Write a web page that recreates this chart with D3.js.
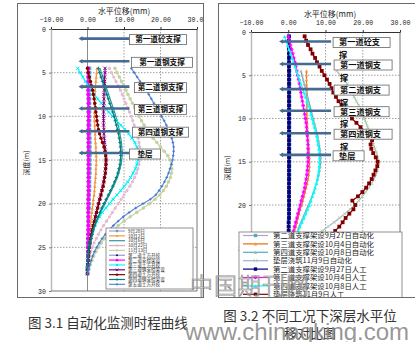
<!DOCTYPE html>
<html><head><meta charset="utf-8">
<script src="https://cdn.jsdelivr.net/npm/d3@7/dist/d3.min.js"></script>
<style>html,body{margin:0;padding:0;background:#fff;} svg{display:block;}</style>
</head><body>
<svg id="chart" width="415" height="342"></svg>
<script>
// ---------------- DATA ----------------
const xTicks = [-10, 0, 10, 20, 30];
const yTicks = [0, 5, 10, 15, 20, 25, 30];
const axisTitleX = "水平位移(mm)";
const axisTitleY = "深度(m)";

const supportDepths = [1.1, 3.7, 6.6, 9.1, 11.7, 14.2];
const supportLabels = ["第一道砼支撑", "第一道钢支撑", "第二道钢支撑", "第三道钢支撑", "第四道钢支撑", "垫层"];
const supportFrom = -2.2, supportTo = 11.5;

// Left chart (图3.1)
const leftDepths = [4.5,5,5.5,6,6.5,7,7.5,8,8.5,9,9.5,10,10.5,11,11.5,12,12.5,13,13.5,14,14.5,15,15.5,16,16.5,17,17.5,18,18.5,19,19.5,20,20.5,21,21.5,22,22.5,23,23.5,24,24.5,25,25.5,26,26.5,27,27.5,28];
const leftNames = ["9月28日","10月2日","10月6日","10月22日","11月13日","第二道土方开挖","第二道支撑架设","第三道土方开挖","第三道钢支撑架设","第四道土方开挖","第四道钢支撑架设","第五道土方开挖"];
const L0928 = [0.6,0.6,0.6,0.6,0.6,0.6,0.6,0.6,0.6,0.6, 0.6,0.6,0.6,0.6,0.6,0.6,0.7,0.7,0.7,0.7, 0.7,0.7,0.7,0.7,0.7,0.6,0.6,0.6,0.6,0.5, 0.5,0.5,0.5,0.4,0.4,0.4,0.3,0.3,0.3,0.2, 0.2,0.2,0.1,0.1,0.1,0.0,0.0,0.0];
const L1002 = [2.6,2.5,2.4,2.3,2.2,2.1,2.0,2.0,1.9,1.9, 1.9,1.9,1.9,2.0,2.0,2.1,2.1,2.2,2.3,2.3, 2.4,2.4,2.4,2.3,2.3,2.2,2.1,2.0,1.9,1.8, 1.6,1.5,1.3,1.2,1.0,0.9,0.7,0.6,0.5,0.4, 0.3,0.2,0.2,0.1,0.1,0.0,0.0,0.0];
const L1006 = [3.4,3.8,4.2,4.6,5.0,5.4,5.8,6.2,6.6,7.0, 7.4,7.8,8.1,8.4,8.7,8.9,9.1,9.3,9.4,9.5, 9.5,9.4,9.2,8.9,8.6,8.2,7.7,7.2,6.6,6.0, 5.4,4.8,4.2,3.6,3.1,2.6,2.1,1.7,1.4,1.1, 0.8,0.6,0.4,0.2,0.1,0.0,0.0,0.0];
const L1022 = [6.0,6.6,7.2,7.8,8.4,9.0,9.5,10.0,10.5,11.0, 11.5,12.0,12.4,12.8,13.2,13.6,13.9,14.1,14.3,14.4, 14.4,14.3,14.1,13.8,13.4,12.9,12.3,11.6,10.8,10.0, 9.2,8.4,7.6,6.8,6.0,5.2,4.4,3.7,3.0,2.4, 1.8,1.3,0.9,0.6,0.3,0.1,0.0,0.0];
const L1113 = [7.5,8.1,8.7,9.3,9.9,10.5,11.1,11.7,12.3,12.9, 13.5,14.1,14.8,15.5,16.3,17.1,18.0,19.0,20.0,21.0, 22.0,22.6,23.0,23.1,23.0,22.7,22.2,21.6,20.8,19.8, 18.5,17.0,15.3,13.5,11.7,10.0,8.4,7.0,5.8,4.7, 3.8,3.0,2.3,1.7,1.2,0.8,0.4,0.1];
const LExc2 = [0.1,0.1,0.1,0.1,0.1,0.1,0.1,0.1,0.1,0.1, 0.1,0.1,0.1,0.1,0.1,0.1,0.1,0.1,0.1,0.1, 0.1,0.1,0.1,0.1,0.1,0.1,0.1,0.1,0.1,0.1, 0.1,0.1,0.1,0.1,0.1,0.1,0.1,0.1,0.0,0.0, 0.0,0.0,0.0,0.0,0.0,0.0,0.0,0.0];
const LSup2 = [0.2,0.2,0.2,0.2,0.2,0.2,0.2,0.3,0.3,0.3, 0.3,0.3,0.3,0.3,0.3,0.3,0.3,0.3,0.3,0.3, 0.3,0.3,0.3,0.3,0.3,0.3,0.3,0.3,0.3,0.3, 0.2,0.2,0.2,0.2,0.2,0.2,0.2,0.2,0.2,0.2, 0.1,0.1,0.1,0.1,0.1,0.1,0.0,0.0];
const LExc3 = [-2.7,-2.0,-1.3,-0.6,0.2,1.0,1.9,2.8,3.8,4.8, 5.8,6.9,8.0,9.1,10.2,11.3,12.2,13.0,13.5,13.8, 13.9,13.8,13.5,13.1,12.5,11.8,11.0,10.1,9.1,8.1, 7.0,6.0,5.0,4.1,3.3,2.6,2.0,1.5,1.1,0.8, 0.5,0.3,0.2,0.1,0.0,0.0,0.0,0.0];
const LSup3 = [4.8,4.8,4.7,4.7,4.6,4.6,4.5,4.5,4.5,4.4, 4.4,4.4,4.4,4.4,4.5,4.5,4.6,4.7,4.8,4.9, 5.0,5.0,5.0,4.9,4.8,4.6,4.4,4.2,3.9,3.6, 3.3,3.0,2.7,2.4,2.1,1.8,1.5,1.2,1.0,0.8, 0.6,0.4,0.3,0.2,0.1,0.1,0.0,0.0];
const LExc4 = [0.0,0.2,0.5,0.8,1.1,1.4,1.6,1.8,2.0,2.2, 2.3,2.5,2.6,2.8,3.0,3.3,3.7,4.1,4.5,4.8, 5.0,5.1,5.1,5.0,4.9,4.7,4.5,4.3,4.0,3.7, 3.4,3.1,2.8,2.5,2.2,1.9,1.6,1.3,1.1,0.9, 0.7,0.5,0.4,0.3,0.2,0.1,0.0,0.0];
const LSup4 = [3.0,3.3,3.7,4.1,4.5,4.9,5.3,5.7,6.1,6.5, 6.9,7.3,7.6,7.9,8.2,8.5,8.7,8.9,9.0,9.1, 9.1,9.0,8.9,8.6,8.3,7.9,7.4,6.9,6.3,5.7, 5.1,4.5,3.9,3.4,2.9,2.4,2.0,1.6,1.3,1.0, 0.7,0.5,0.3,0.2,0.1,0.0,0.0,0.0];
const LExc5 = [12.0,12.8,13.6,14.4,15.2,16.0,16.8,17.5,18.2,18.9, 19.6,20.3,21.0,21.6,22.2,22.7,23.1,23.4,23.6,23.6, 23.5,23.3,23.0,22.6,22.2,21.7,21.1,20.4,19.6,18.7, 17.2,15.2,13.2,11.4,9.8,8.4,7.1,5.9,4.9,4.0, 3.2,2.5,1.9,1.4,1.0,0.6,0.3,0.1];
const leftValues = [L0928, L1002, L1006, L1022, L1113, LExc2, LSup2, LExc3, LSup3, LExc4, LSup4, LExc5];

// Right chart (图3.2)
const rightAutoDepths = [4.5,5,5.5,6,6.5,7,7.5,8,8.5,9,9.5,10,10.5,11,11.5,12,12.5,13,13.5,14,14.5,15,15.5,16,16.5,17,17.5,18,18.5,19,19.5,20,20.5,21,21.5,22,22.5,23,23.5,24,24.5,25,25.5,26,26.5,27,27.5,28];
const rightManualDepths = [0.5,1,1.5,2,2.5,3,3.5,4,4.5,5,5.5,6,6.5,7,7.5,8,8.5,9,9.5,10,10.5,11,11.5,12,12.5,13,13.5,14,14.5,15,15.5,16,16.5,17,17.5,18,18.5,19,19.5,20,20.5,21,21.5,22,22.5,23,23.5,24,24.5,25,25.5,26,26.5,27,27.5,28];
const rightNames = ["第二道支撑架设9月27日自动化","第三道支撑架设10月4日自动化","第四道支撑架设10月8日自动化","垫层浇筑11月9日自动化","第二道支撑架设9月27日人工","第三道支撑架设10月4日人工","第四道支撑架设10月8日人工","垫层浇筑11月9日人工"];
const RA0927 = [0.4,0.4,0.4,0.4,0.4,0.4,0.4,0.4,0.4,0.4, 0.4,0.4,0.4,0.4,0.4,0.4,0.4,0.4,0.4,0.4, 0.4,0.4,0.4,0.4,0.4,0.4,0.3,0.3,0.3,0.3, 0.3,0.3,0.3,0.3,0.2,0.2,0.2,0.2,0.2,0.2, 0.1,0.1,0.1,0.1,0.1,0.0,0.0,0.0];
const RA1004 = [4.9,4.9,4.9,4.9,5.0,5.0,5.0,5.0,5.0,5.0, 5.0,5.0,5.1,5.1,5.2,5.2,5.3,5.4,5.5,5.6, 5.7,5.7,5.7,5.6,5.5,5.3,5.1,4.8,4.5,4.2, 3.9,3.6,3.2,2.9,2.6,2.3,2.0,1.7,1.4,1.1, 0.9,0.7,0.5,0.3,0.2,0.1,0.0,0.0];
const RA1008 = [3.4,3.7,4.0,4.3,4.6,4.9,5.2,5.5,5.8,6.1, 6.4,6.7,7.0,7.3,7.6,7.9,8.1,8.3,8.5,8.6, 8.7,8.7,8.6,8.4,8.2,7.9,7.6,7.2,6.8,6.4, 5.9,5.4,4.9,4.4,3.9,3.4,2.9,2.5,2.1,1.7, 1.3,1.0,0.7,0.5,0.3,0.2,0.1,0.0];
const RA1109 = [13.0,14.0,15.0,15.8,16.5,17.1,17.7,18.3,18.9,19.4, 19.9,20.4,20.9,21.3,21.7,22.1,22.5,22.9,23.3,23.7, 24.0,24.1,24.1,23.9,23.5,23.0,22.4,21.6,20.8,19.9, 18.9,17.9,16.6,15.2,13.8,12.3,10.7,9.1,7.6,6.2, 5.0,3.9,3.0,2.2,1.5,0.9,0.4,0.1];
const RM0927 = [0.2,0.2,0.2,0.2,0.2,0.2,0.2,0.2,0.2,0.2, 0.2,0.2,0.2,0.2,0.2,0.2,0.2,0.2,0.2,0.2, 0.2,0.2,0.2,0.2,0.2,0.2,0.2,0.2,0.2,0.2, 0.2,0.2,0.2,0.2,0.2,0.2,0.2,0.2,0.2,0.2, 0.2,0.2,0.2,0.1,0.1,0.1,0.1,0.1,0.1,0.1, 0.1,0.1,0.0,0.0,0.0,0.0];
const RM1004 = [0.0,0.3,0.6,0.9,1.2,1.5,1.8,2.0,2.3,2.5, 2.8,3.0,3.2,3.4,3.6,3.8,4.0,4.2,4.4,4.6, 4.8,4.9,5.0,5.1,5.2,5.3,5.3,5.3,5.3,5.3, 5.2,5.1,5.0,4.8,4.6,4.4,4.1,3.8,3.5,3.2, 2.9,2.6,2.3,2.0,1.7,1.4,1.2,1.0,0.8,0.6, 0.5,0.4,0.3,0.2,0.1,0.0];
const RM1008 = [-1.0,-0.6,-0.2,0.2,0.6,1.0,1.4,1.8,2.2,2.6, 3.0,3.4,3.8,4.2,4.6,5.0,5.4,5.8,6.1,6.4, 6.7,7.0,7.3,7.6,7.8,8.0,8.2,8.3,8.4,8.4, 8.3,8.2,8.0,7.8,7.5,7.2,6.9,6.5,6.1,5.7, 5.2,4.7,4.2,3.7,3.2,2.7,2.3,1.9,1.5,1.2, 0.9,0.7,0.5,0.3,0.1,0.0];
const RM1109 = [4.4,4.8,5.3,6.0,6.5,7.2,7.7,8.4,9.0,9.7, 10.4,11.1,11.6,12.1,12.8,13.5,14.3,15.1,16.1,17.1, 18.3,19.4,20.7,21.6,22.5,22.1,22.3,22.8,23.5,24.0, 23.9,23.4,22.9,22.4,21.7,20.9,19.9,18.7,17.2,18.0, 17.5,16.4,15.4,14.6,13.7,12.6,11.6,10.5,9.3,8.0, 6.6,5.2,3.8,2.5,1.3,0.5];
const rightValues = [RA0927, RA1004, RA1008, RA1109, RM0927, RM1004, RM1008, RM1109];
const rightDepthSets = [rightAutoDepths, rightAutoDepths, rightAutoDepths, rightAutoDepths, rightManualDepths, rightManualDepths, rightManualDepths, rightManualDepths];

const captionLeft = "图 3.1 自动化监测时程曲线";
const captionRight1 = "图 3.2 不同工况下深层水平位";
const captionRight2 = "移对比图";

// ---------------- DRAWING ----------------
const svg = d3.select('#chart');
const CJK = '"Noto Sans CJK SC","Noto Sans",sans-serif';
const MONO = '"Liberation Mono","DejaVu Sans Mono",monospace';
const defs = svg.append('defs');

function sym(g, type, s, color) {
  const h = s / 2;
  if (type === 'square') g.append('rect').attr('x', -h).attr('y', -h).attr('width', s).attr('height', s).attr('fill', color);
  else if (type === 'circle') g.append('circle').attr('r', h).attr('fill', color);
  else if (type === 'triangle') g.append('path').attr('d', `M0,${-h}L${h},${h}L${-h},${h}Z`).attr('fill', color);
  else if (type === 'diamond') g.append('path').attr('d', `M0,${-h}L${h},0L0,${h}L${-h},0Z`).attr('fill', color);
  else if (type === 'x') g.append('path').attr('d', `M${-h},${-h}L${h},${h}M${-h},${h}L${h},${-h}`).attr('stroke', color).attr('stroke-width', 1);
  else if (type === 'plus') g.append('path').attr('d', `M${-h},0L${h},0M0,${-h}L0,${h}`).attr('stroke', color).attr('stroke-width', 1);
  else if (type === 'star') g.append('path').attr('d', `M${-h},0L${h},0M0,${-h}L0,${h}M${-h*0.7},${-h*0.7}L${h*0.7},${h*0.7}M${-h*0.7},${h*0.7}L${h*0.7},${-h*0.7}`).attr('stroke', color).attr('stroke-width', 1);
}

function drawChart(cfg) {
  const F = cfg.frame, P = cfg.plot;
  defs.append('clipPath').attr('id', cfg.id + 'F').append('rect')
    .attr('x', F.x).attr('y', F.y).attr('width', F.w).attr('height', F.h);
  defs.append('clipPath').attr('id', cfg.id + 'P').append('rect')
    .attr('x', P.x0).attr('y', P.y0 - 3).attr('width', P.x1 - P.x0 + 3).attr('height', P.y1 - P.y0 + 3);
  const root = svg.append('g').attr('clip-path', `url(#${cfg.id}F)`);
  root.append('rect').attr('x', F.x).attr('y', F.y).attr('width', F.w).attr('height', F.h).attr('fill', '#fff');

  const x = d3.scaleLinear().domain([-10, 30]).range([P.x0, P.x1]);
  const y = d3.scaleLinear().domain([0, 30]).range([P.y0, P.y1]);

  // grid
  const grid = root.append('g');
  yTicks.filter(t => t > 0 && t < 30).forEach(t => {
    grid.append('line').attr('x1', P.x0).attr('x2', P.x1).attr('y1', y(t)).attr('y2', y(t))
      .attr('stroke', '#8a8a8a').attr('stroke-width', 0.8).attr('stroke-dasharray', '1.5,1.5');
  });
  xTicks.filter(t => t > 0 && t < 30).forEach(t => {
    grid.append('line').attr('x1', x(t)).attr('x2', x(t)).attr('y1', P.y0).attr('y2', P.y1)
      .attr('stroke', '#8a8a8a').attr('stroke-width', 0.8).attr('stroke-dasharray', '1.5,1.5');
  });
  grid.append('line').attr('x1', x(0)).attr('x2', x(0)).attr('y1', P.y0).attr('y2', P.y1)
    .attr('stroke', '#8c8c8c').attr('stroke-width', 1);
  grid.append('line').attr('x1', x(30)).attr('x2', x(30)).attr('y1', P.y0).attr('y2', P.y1)
    .attr('stroke', '#777').attr('stroke-width', 1);
  grid.append('line').attr('x1', P.x0).attr('x2', P.x1).attr('y1', y(30)).attr('y2', y(30))
    .attr('stroke', '#777').attr('stroke-width', 1);

  // axes
  const ax = root.append('g').attr('transform', `translate(0,${P.y0})`)
    .call(d3.axisTop(x).tickValues(xTicks).tickFormat(d3.format('.2f')).tickSize(2).tickSizeOuter(0).tickPadding(5));
  ax.select('.domain').attr('stroke', '#333');
  ax.selectAll('.tick line').attr('stroke', '#333');
  ax.selectAll('text').attr('font-family', MONO).attr('font-size', 6.6).attr('fill', '#222');
  const ay = root.append('g').attr('transform', `translate(${P.x0},0)`)
    .call(d3.axisLeft(y).tickValues(yTicks).tickSize(2).tickSizeOuter(0).tickPadding(3));
  ay.select('.domain').attr('stroke', '#777').attr('stroke-width', 1.5).attr('stroke-dasharray', '1,1');
  ay.selectAll('.tick line').attr('stroke', '#777');
  ay.selectAll('text').attr('font-family', MONO).attr('font-size', 6.6).attr('fill', '#222');

  root.append('text').attr('x', cfg.titleX).attr('y', cfg.titleY).attr('text-anchor', 'middle')
    .attr('font-family', CJK).attr('font-size', 8).attr('fill', '#222').text(axisTitleX);
  root.append('text').attr('transform', `translate(${cfg.yTitleX},${cfg.yTitleY}) rotate(-90)`)
    .attr('text-anchor', 'middle').attr('font-family', CJK).attr('font-size', 7).attr('fill', '#222').text(axisTitleY);

  // series
  const sg = root.append('g').attr('clip-path', `url(#${cfg.id}P)`);
  cfg.values.forEach((vals, i) => {
    const st = cfg.styles[i];
    const depths = cfg.depths[i];
    const pts = vals.map((v, k) => ({ v, d: depths[k] }));
    const line = d3.line().x(p => x(p.v)).y(p => y(p.d));
    sg.append('path').attr('d', line(pts)).attr('fill', 'none').attr('stroke', st.line)
      .attr('stroke-width', st.w || 1.2).attr('stroke-dasharray', st.dash || null);
    if (st.mk !== 'none') {
      pts.forEach(p => {
        const m = sg.append('g').attr('transform', `translate(${x(p.v)},${y(p.d)})`);
        sym(m, st.mk, st.ms || 3.2, st.mc);
      });
    }
  });

  // supports
  const an = root.append('g');
  supportDepths.forEach((d, i) => {
    const yy = y(d), xa = x(supportFrom), xb = x(supportTo);
    an.append('line').attr('x1', xa + 2).attr('x2', xb).attr('y1', yy).attr('y2', yy)
      .attr('stroke', '#466b93').attr('stroke-width', 2.6);
    an.append('path').attr('d', `M${xa - 1},${yy}L${xa + 3},${yy - 2.3}L${xa + 3},${yy + 2.3}Z`).attr('fill', '#466b93');
    const lay = cfg.boxes[i];
    const bx = xb + lay.dx;
    an.append('rect').attr('x', bx).attr('y', yy - 4).attr('width', lay.w).attr('height', 10)
      .attr('fill', '#fff').attr('stroke', '#666').attr('stroke-width', 0.8);
    const lab = supportLabels[i];
    if (cfg.wrap && lab.length > 5) {
      an.append('text').attr('x', bx + 6).attr('y', yy + 3.8).attr('font-family', CJK).attr('font-weight', 'bold')
        .attr('font-size', cfg.boxFont).attr('fill', '#111').text(lab.slice(0, 5));
      an.append('text').attr('x', bx + 6).attr('y', yy + 16.5).attr('font-family', CJK).attr('font-weight', 'bold')
        .attr('font-size', cfg.boxFont).attr('fill', '#111').text(lab.slice(5));
    } else if (cfg.wrap) {
      an.append('text').attr('x', bx + 6).attr('y', yy + 3.8).attr('font-family', CJK).attr('font-weight', 'bold')
        .attr('font-size', cfg.boxFont).attr('fill', '#111').text(lab);
    } else {
      an.append('text').attr('x', bx + lay.w / 2).attr('y', yy + 3.6).attr('text-anchor', 'middle').attr('font-family', CJK)
        .attr('font-weight', 'bold').attr('font-size', cfg.boxFont).attr('fill', '#111').text(lab);
    }
  });

  // legend
  const L = cfg.legend;
  const lg = root.append('g');
  lg.append('rect').attr('x', L.x).attr('y', L.y).attr('width', L.w).attr('height', L.h)
    .attr('fill', '#fff').attr('stroke', '#777').attr('stroke-width', 0.8);
  cfg.names.forEach((n, i) => {
    const st = cfg.styles[i];
    const ry = L.row0 + i * L.rowH;
    lg.append('line').attr('x1', L.lx0).attr('x2', L.lx1).attr('y1', ry).attr('y2', ry)
      .attr('stroke', st.line).attr('stroke-width', st.w || 1.2);
    if (st.mk !== 'none') {
      const m = lg.append('g').attr('transform', `translate(${(L.lx0 + L.lx1) / 2},${ry})`);
      sym(m, st.mk, L.ms, st.mc);
    }
    lg.append('text').attr('x', L.tx).attr('y', ry + L.fs * 0.36).attr('font-family', CJK)
      .attr('font-size', L.fs).attr('fill', '#222').text(n);
  });

  // frame border
  svg.append('rect').attr('x', F.x + 0.5).attr('y', F.y + 0.5).attr('width', F.w - 1).attr('height', F.h - 1)
    .attr('fill', 'none').attr('stroke', '#6a6a6a').attr('stroke-width', 1);
}

drawChart({
  id: 'L',
  frame: { x: 17, y: 3, w: 187, h: 295 },
  plot: { x0: 51, x1: 197, y0: 29, y1: 291 },
  titleX: 124, titleY: 14, yTitleX: 29, yTitleY: 163,
  values: leftValues, depths: leftValues.map(() => leftDepths), names: leftNames,
  styles: [
    { line: '#a99bd0', mk: 'square', mc: '#4bacc6' },
    { line: '#f79646', mk: 'triangle', mc: '#f79646' },
    { line: '#2e9a9a', mk: 'none' },
    { line: '#dcaac4', mk: 'circle', mc: '#e3bccf', dash: '2,1' },
    { line: '#c4d79b', mk: 'circle', mc: '#c6d2a6', ms: 3.6 },
    { line: '#9999cc', mk: 'diamond', mc: '#000080' },
    { line: '#ff00ff', mk: 'square', mc: '#ff00ff', ms: 3.4 },
    { line: '#00ffff', mk: 'x', mc: '#00e8ff' },
    { line: '#800080', mk: 'x', mc: '#800080' },
    { line: '#800000', mk: 'circle', mc: '#800000', ms: 3.4 },
    { line: '#008080', mk: 'plus', mc: '#008080' },
    { line: '#5a8ad8', mk: 'plus', mc: '#4a7ad0', ms: 2.6 }
  ],
  boxes: [ { dx: 0, w: 57 }, { dx: 2, w: 61 }, { dx: 5, w: 52 }, { dx: 5, w: 52 }, { dx: 3, w: 56 }, { dx: 0, w: 31 } ],
  boxFont: 7.6, wrap: false,
  legend: { x: 106, y: 228, w: 87, h: 61, row0: 231, rowH: 4.85, lx0: 109, lx1: 125, tx: 128, fs: 4.6, ms: 2.4 }
});

drawChart({
  id: 'R',
  frame: { x: 218, y: 3, w: 200, h: 295 },
  plot: { x0: 251, x1: 400, y0: 32, y1: 291.5 },
  titleX: 330, titleY: 17, yTitleX: 230, yTitleY: 168,
  values: rightValues, depths: rightDepthSets, names: rightNames,
  styles: [
    { line: '#b3a2c7', mk: 'square', mc: '#4bacc6' },
    { line: '#e46c0a', mk: 'triangle', mc: '#f79646' },
    { line: '#4bacc6', mk: 'triangle', mc: '#a9b8b8' },
    { line: '#95b3d7', mk: 'x', mc: '#c3d69b' },
    { line: '#000080', mk: 'square', mc: '#000080', ms: 3.8 },
    { line: '#ff00ff', mk: 'star', mc: '#ff00ff', ms: 3.6 },
    { line: '#00ffff', mk: 'triangle', mc: '#00ffff', ms: 3.4 },
    { line: '#800000', mk: 'square', mc: '#800000', ms: 3.8 }
  ],
  boxes: [ { dx: 2, w: 57 }, { dx: 3, w: 58 }, { dx: 3, w: 55 }, { dx: 3, w: 55 }, { dx: 3, w: 58 }, { dx: 2, w: 31 } ],
  boxFont: 8.2, wrap: true,
  legend: { x: 239, y: 232, w: 163, h: 80, row0: 235.5, rowH: 8.4, lx0: 243, lx1: 268, tx: 273, fs: 7.4, ms: 3.4 }
});

// captions
svg.append('text').attr('x', 28).attr('y', 328).attr('font-family', CJK).attr('font-size', 13.5)
  .attr('fill', '#333').text(captionLeft);
svg.append('text').attr('x', 310).attr('y', 321).attr('text-anchor', 'middle').attr('font-family', CJK)
  .attr('font-size', 13.5).attr('fill', '#333').text(captionRight1);
svg.append('text').attr('x', 310).attr('y', 337.5).attr('text-anchor', 'middle').attr('font-family', CJK)
  .attr('font-size', 13).attr('fill', '#333').text(captionRight2);

// watermarks
svg.append('text').attr('x', 190).attr('y', 294).attr('font-family', CJK).attr('font-size', 23)
  .attr('font-weight', 300).attr('fill', '#fff').attr('fill-opacity', 0.35)
  .attr('stroke', '#8c8c8c').attr('stroke-width', 0.7).attr('letter-spacing', 1).text('中国期刊网');
svg.append('text').attr('x', 185).attr('y', 340).attr('font-family', '"Liberation Sans",Arial,sans-serif')
  .attr('font-size', 24).attr('fill', '#8a8a8a').attr('fill-opacity', 0.9).text('www.chinaqking.com');
</script>
</body></html>
